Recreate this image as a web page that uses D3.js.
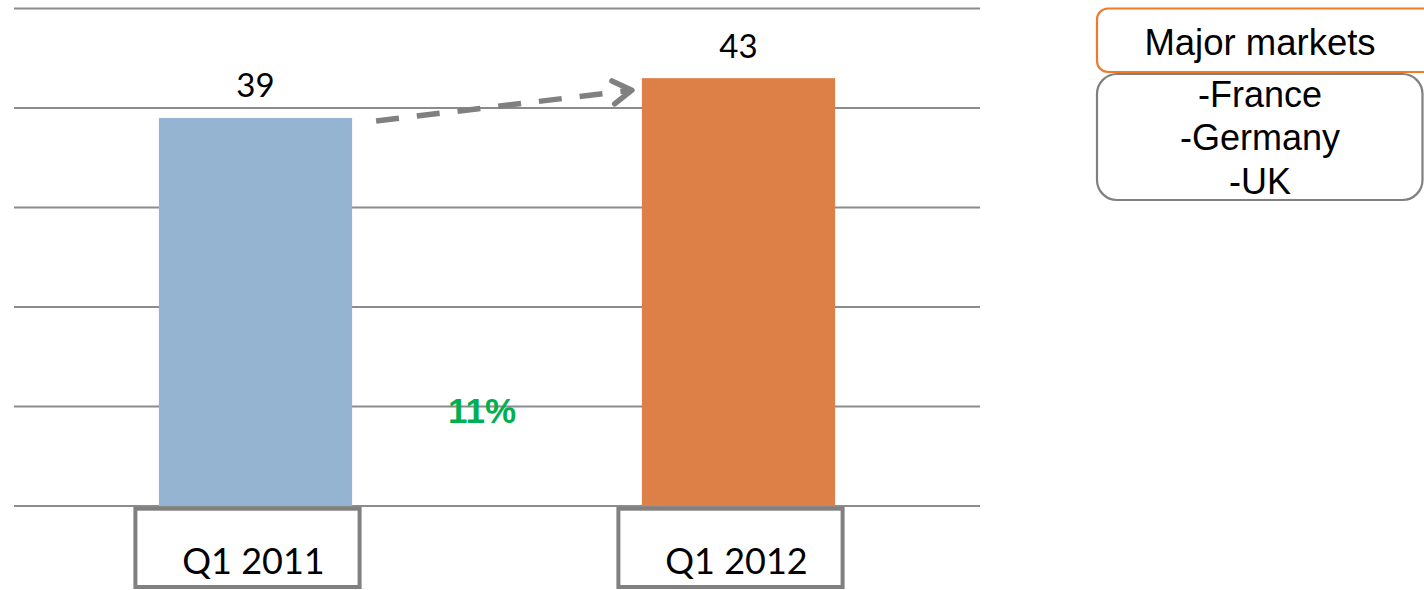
<!DOCTYPE html>
<html>
<head>
<meta charset="utf-8">
<script src="https://cdn.jsdelivr.net/npm/d3@7"></script>
<style>
  html, body { margin: 0; padding: 0; background: #fff; }
  svg { display: block; }
</style>
</head>
<body>
<svg id="chart" width="1424" height="590"></svg>
<script>
const categories = ["Q1 2011", "Q1 2012"];
const values = [39, 43];
const barColors = ["#95B4D2", "#DD8048"];
const yTicks = [0, 10, 20, 30, 40, 50];
const changeLabel = "11%";
const legendTitle = "Major markets";
const legendItems = ["-France", "-Germany", "-UK"];

const ARIAL = "'Liberation Sans', Arial, sans-serif";
const svg = d3.select("#chart");
const x = d3.scaleBand().domain(categories).range([14, 980]).paddingInner(0.6).paddingOuter(0.3);
const y = d3.scaleLinear().domain([0, 50]).range([506, 8.5]);

// gridlines
svg.append("g").selectAll("line").data(yTicks).join("line")
  .attr("x1", 14).attr("x2", 980)
  .attr("y1", d => y(d)).attr("y2", d => y(d))
  .attr("stroke", "#8c8c8c").attr("stroke-width", 2);

// bars
svg.append("g").selectAll("rect").data(values).join("rect")
  .attr("x", (d, i) => x(categories[i]))
  .attr("width", x.bandwidth())
  .attr("y", d => y(d))
  .attr("height", d => y(0) - y(d))
  .attr("fill", (d, i) => barColors[i]);

// value labels
svg.append("g").selectAll("text").data(values).join("text")
  .attr("x", (d, i) => x(categories[i]) + x.bandwidth() / 2)
  .attr("y", d => y(d) - 20.5)
  .attr("text-anchor", "middle")
  .attr("font-family", "Lato, sans-serif")
  .attr("font-size", 33)
  .attr("fill", "#000")
  .text(d => d);

// category boxes
const cat = svg.append("g").selectAll("g").data(categories).join("g");
cat.append("rect")
  .attr("x", d => x(d) - 23.5)
  .attr("y", 508.7)
  .attr("width", x.bandwidth() + 31)
  .attr("height", 78.3)
  .attr("fill", "#fff")
  .attr("stroke", "#808080")
  .attr("stroke-width", 4);
cat.append("text")
  .attr("x", d => x(d) + x.bandwidth() / 2 - 2)
  .attr("y", 574)
  .attr("text-anchor", "middle")
  .attr("font-family", "Lato, sans-serif")
  .attr("font-size", 36)
  .attr("fill", "#000")
  .text(d => d);

// dashed arrow
const x0 = x(categories[0]) + x.bandwidth() + 24;
const y0 = y(values[0]) + 3;
const x1 = x(categories[1]) - 10;
const y1 = y(values[1]) + 12;
svg.append("line")
  .attr("x1", x0).attr("y1", y0).attr("x2", x1 - 4).attr("y2", y1 + 0.5)
  .attr("stroke", "#808080").attr("stroke-width", 5.5)
  .attr("stroke-dasharray", "23,18");
const ang = Math.atan2(y1 - y0, x1 - x0);
const ah = 22, spread = 0.55;
svg.append("path")
  .attr("d", `M${x1 - ah * Math.cos(ang - spread)},${y1 - ah * Math.sin(ang - spread)} L${x1},${y1} L${x1 - ah * Math.cos(ang + spread)},${y1 - ah * Math.sin(ang + spread)}`)
  .attr("fill", "none").attr("stroke", "#808080").attr("stroke-width", 5.5)
  .attr("stroke-linecap", "round").attr("stroke-linejoin", "round");

// change label
svg.append("text")
  .attr("x", 482).attr("y", 422.5)
  .attr("text-anchor", "middle")
  .attr("font-family", ARIAL)
  .attr("font-weight", "bold")
  .attr("font-size", 35)
  .attr("fill", "#00B050")
  .text(changeLabel);

// legend
svg.append("rect")
  .attr("x", 1097).attr("y", 8.5).attr("width", 340).attr("height", 63.5)
  .attr("rx", 11).attr("fill", "#fff").attr("stroke", "#F07A28").attr("stroke-width", 2.2);
svg.append("text")
  .attr("x", 1260).attr("y", 54.5)
  .attr("text-anchor", "middle")
  .attr("font-family", ARIAL)
  .attr("font-size", 36.5)
  .attr("fill", "#000")
  .text(legendTitle);
svg.append("rect")
  .attr("x", 1097).attr("y", 74).attr("width", 325.5).attr("height", 126)
  .attr("rx", 20).attr("fill", "none").attr("stroke", "#808080").attr("stroke-width", 2.2);
svg.append("g").selectAll("text").data(legendItems).join("text")
  .attr("x", 1260)
  .attr("y", (d, i) => 106.5 + i * 43.5)
  .attr("text-anchor", "middle")
  .attr("font-family", ARIAL)
  .attr("font-size", 36)
  .attr("fill", "#000")
  .text(d => d);
</script>
</body>
</html>
